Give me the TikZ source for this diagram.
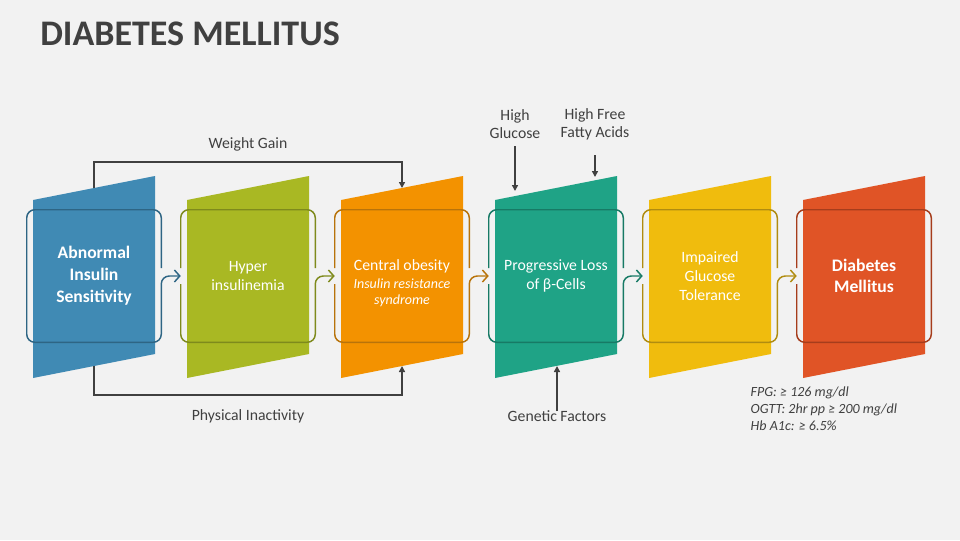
\documentclass[tikz,border=0pt]{standalone}
\usepackage{fontspec}
\setmainfont{Carlito}
\usetikzlibrary{positioning, arrows.meta, calc}
\definecolor{bg}{HTML}{F2F2F2}
\definecolor{txt}{HTML}{404040}
\definecolor{blueF}{HTML}{408AB4}
\definecolor{blueD}{HTML}{2E6584}
\definecolor{greenF}{HTML}{A9B823}
\definecolor{greenD}{HTML}{7E8A1C}
\definecolor{orangeF}{HTML}{F39200}
\definecolor{orangeD}{HTML}{B8730A}
\definecolor{tealF}{HTML}{1FA386}
\definecolor{tealD}{HTML}{177A65}
\definecolor{yellowF}{HTML}{F0BC0D}
\definecolor{yellowD}{HTML}{B08C10}
\definecolor{redF}{HTML}{E05426}
\definecolor{redD}{HTML}{A63D1C}

\begin{document}
\begin{tikzpicture}[x=0.75pt, y=-0.75pt,
  stage/.style={rectangle, minimum width=100.5pt, minimum height=99pt, inner sep=0pt, text=white, align=center, font=\fontsize{11.8}{14.5}\selectfont},
  outline/.style={line width=1.1pt, rounded corners=6pt},
  flow/.style={outline, -{Straight Barb[length=4pt, width=9pt]}},
  link/.style={draw=txt, line width=1.1pt, -{Triangle[length=4.5pt, width=4.5pt]}},
  label/.style={text=txt, align=center, font=\fontsize{11.8}{13.8}\selectfont}]

\fill[bg] (0,0) rectangle (960,540);
\useasboundingbox (0,0) rectangle (960,540);

\node[anchor=base west, inner sep=0pt, text=txt, font=\fontsize{27}{30}\selectfont\bfseries] (title) at (40,45) {DIABETES MELLITUS};

\fill[blueF] (33,200) -- (155,176) -- (155,354) -- (33,378) -- cycle;
\fill[greenF] (187,200) -- (309,176) -- (309,354) -- (187,378) -- cycle;
\fill[orangeF] (341,200) -- (463,176) -- (463,354) -- (341,378) -- cycle;
\fill[tealF] (495,200) -- (617,176) -- (617,354) -- (495,378) -- cycle;
\fill[yellowF] (649,200) -- (771,176) -- (771,354) -- (649,378) -- cycle;
\fill[redF] (803,200) -- (925,176) -- (925,354) -- (803,378) -- cycle;

\node[stage, font=\fontsize{13.2}{16.5}\selectfont\bfseries] at (94,276) (ais) {Abnormal\\Insulin\\Sensitivity};
\node[stage] at (248,276) (hi) {Hyper\\insulinemia};
\node[stage] at (402,276) (co) {\rule{0pt}{19pt}Central obesity\\[-1pt]\fontsize{10.5}{12}\selectfont\itshape Insulin resistance\\[-3pt]\fontsize{10.5}{12}\selectfont\itshape syndrome};
\node[stage] at (556,276) (pl) {Progressive Loss\\of β-Cells};
\node[stage] at (710,276) (igt) {Impaired\\Glucose\\Tolerance};
\node[stage, font=\fontsize{13.2}{16}\selectfont\bfseries] at (864,276) (dm) {Diabetes\\Mellitus};

\draw[flow, draw=blueD] ($(ais.east)+(0,-8)$) |- (ais.north west) |- (ais.south east) -- (ais.east) -- (hi.west);
\draw[outline, draw=greenD] ($(hi.east)+(0,-8)$) |- (hi.north west) -- ($(hi.west)+(0,-8)$);
\draw[flow, draw=greenD] ($(hi.west)+(0,8)$) |- (hi.south east) -- (hi.east) -- (co.west);
\draw[outline, draw=orangeD] ($(co.east)+(0,-8)$) |- (co.north west) -- ($(co.west)+(0,-8)$);
\draw[flow, draw=orangeD] ($(co.west)+(0,8)$) |- (co.south east) -- (co.east) -- (pl.west);
\draw[outline, draw=tealD] ($(pl.east)+(0,-8)$) |- (pl.north west) -- ($(pl.west)+(0,-8)$);
\draw[flow, draw=tealD] ($(pl.west)+(0,8)$) |- (pl.south east) -- (pl.east) -- (igt.west);
\draw[outline, draw=yellowD] ($(igt.east)+(0,-8)$) |- (igt.north west) -- ($(igt.west)+(0,-8)$);
\draw[flow, draw=yellowD] ($(igt.west)+(0,8)$) |- (igt.south east) -- (igt.east) -- (dm.west);
\draw[outline, draw=redD] ($(dm.west)+(0,-8)$) |- (dm.north east) |- (dm.south west) -- ($(dm.west)+(0,8)$);

\coordinate (ais-top) at (94,188);
\coordinate (ais-bot) at (94,366);
\coordinate (co-top) at (402,188);
\coordinate (co-bot) at (402,366);
\coordinate (hg-end) at (515,191);
\coordinate (hffa-end) at (595,177);
\coordinate (gf-end) at (557,366);

\draw[link] (ais-top) -- ++(0,-26) -| node[label, pos=0.25, above=4pt] (wg) {Weight Gain} (co-top);
\draw[link] (ais-bot) -- ++(0,29) -| node[label, pos=0.25, below=7pt] (pi) {Physical Inactivity} (co-bot);

\node[label] at (515,124) (hg) {High\\Glucose};
\node[label] at (595,124) (hffa) {High Free\\Fatty Acids};
\node[label] at (557,416) (gf) {Genetic Factors};

\draw[link, shorten <=2pt] (hg) -- (hg-end);
\draw[link, shorten <=8pt] (hffa) -- (hffa-end);
\draw[link, shorten <=-4pt] (gf) -- (gf-end);

\node[anchor=north west, text=txt, align=left, font=\fontsize{10.5}{12.75}\selectfont\itshape] at (746,382) (crit) {FPG: ≥ 126 mg/dl\\OGTT: 2hr pp ≥ 200 mg/dl\\Hb A1c: ≥ 6.5\%};

\end{tikzpicture}
\end{document}
